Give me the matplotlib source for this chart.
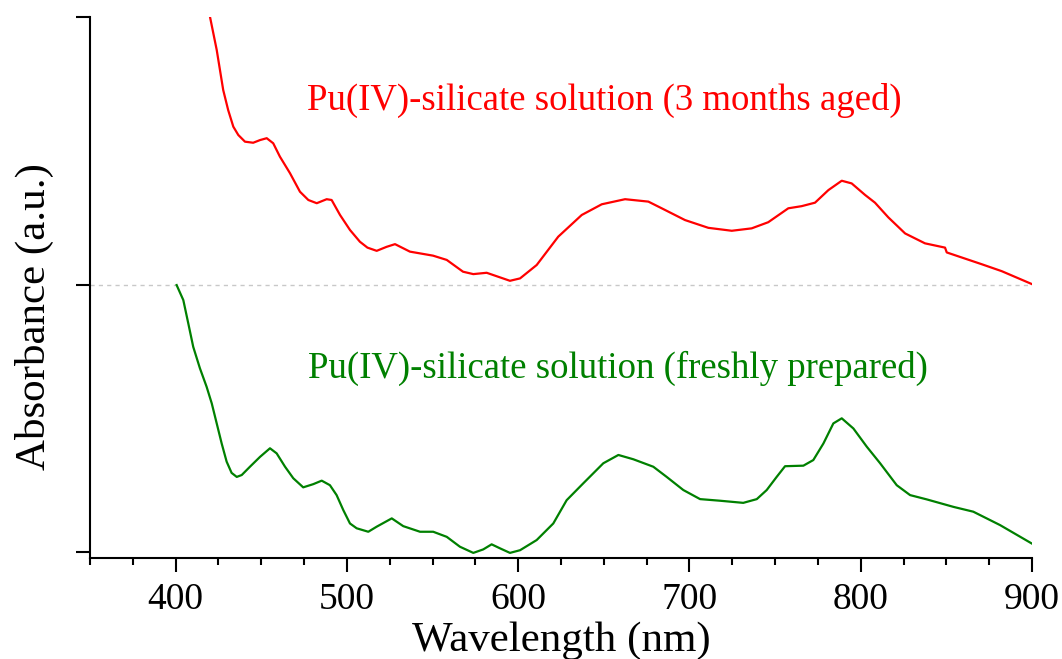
import matplotlib
matplotlib.use("Agg")
import matplotlib.pyplot as plt
from matplotlib.ticker import MultipleLocator

plt.rcParams['font.family'] = ['Liberation Serif', 'DejaVu Serif']

# aged sample (red), offset by +1
aged_wl = [420.1, 424.0, 427.8, 430.7, 433.7, 436.6, 440.5, 445.3, 449.3, 453.2,
           457.0, 460.9, 466.8, 472.6, 477.5, 482.4, 488.2, 491.1, 496.0, 501.8,
           507.6, 512.0, 517.4, 523.2, 528.1, 536.8, 550.3, 558.3, 567.8,
           573.8, 581.6, 595.2, 601.1, 610.8, 623.4, 637.1, 648.8, 662.4, 676.0,
           683.8, 697.4, 711.0, 724.7, 736.3, 746.0, 757.7, 765.5, 773.3, 781.1,
           788.9, 794.7, 802.5, 808.3, 816.1, 825.9, 837.5, 849.2, 850.2, 870.6,
           882.3, 899.8]
aged_abs = [2.000, 1.877, 1.727, 1.652, 1.590, 1.559, 1.534, 1.530, 1.540, 1.547,
            1.528, 1.478, 1.416, 1.347, 1.316, 1.304, 1.319, 1.316, 1.260, 1.204,
            1.160, 1.138, 1.126, 1.141, 1.151, 1.123, 1.108, 1.092, 1.048,
            1.039, 1.044, 1.014, 1.023, 1.073, 1.179, 1.260, 1.300, 1.319, 1.310,
            1.285, 1.241, 1.212, 1.201, 1.210, 1.233, 1.285, 1.293, 1.306, 1.353,
            1.388, 1.378, 1.335, 1.306, 1.251, 1.191, 1.154, 1.138, 1.120, 1.076,
            1.050, 1.002]

# fresh sample (green)
fresh_wl = [400.6, 404.5, 407.4, 410.3, 414.2, 418.1, 421.1, 424.0, 426.9, 429.8,
            432.7, 435.7, 438.6, 443.4, 449.3, 455.1, 459.0, 463.9, 468.7, 474.5,
            480.4, 485.3, 490.1, 494.0, 497.9, 501.8, 505.7, 512.5, 517.4, 526.2,
            532.9, 542.7, 550.4, 558.3, 566.0, 573.8, 579.6, 584.5, 589.4, 595.2,
            601.1, 610.8, 620.5, 628.3, 638.0, 649.7, 658.5, 667.2, 678.9, 686.7,
            696.4, 706.2, 717.8, 731.4, 739.3, 745.1, 750.9, 755.8, 766.5, 772.3,
            778.2, 784.0, 788.9, 795.7, 803.5, 811.3, 821.0, 828.8, 838.5, 854.1,
            865.7, 881.3, 900.4]
fresh_abs = [0.998, 0.942, 0.855, 0.767, 0.687, 0.618, 0.556, 0.481, 0.406, 0.338,
             0.296, 0.281, 0.288, 0.319, 0.356, 0.388, 0.369, 0.319, 0.276, 0.242,
             0.254, 0.267, 0.250, 0.213, 0.157, 0.107, 0.089, 0.076, 0.095, 0.126,
             0.097, 0.076, 0.076, 0.057, 0.020, -0.003, 0.010, 0.029, 0.014, -0.003,
             0.007, 0.045, 0.107, 0.194, 0.257, 0.332, 0.363, 0.347, 0.319, 0.281,
             0.232, 0.198, 0.192, 0.184, 0.198, 0.232, 0.281, 0.321, 0.323, 0.344,
             0.406, 0.481, 0.500, 0.462, 0.394, 0.332, 0.250, 0.213, 0.197, 0.169,
             0.151, 0.101, 0.030]

fig = plt.figure(figsize=(10.62, 6.59), dpi=100)
ax = fig.add_axes([0.0847, 0.1533, 0.8871, 0.8209])

ax.axhline(1.0, color="#c8c8c8", lw=1, ls=(0, (3, 3)))
ax.plot(aged_wl, aged_abs, color="#ff0000", lw=1.6)
ax.plot(fresh_wl, fresh_abs, color="#008000", lw=1.6)

ax.text(650, 1.69, "Pu(IV)-silicate solution (3 months aged)", color="#ff0000",
        fontsize=26.5, ha="center", va="center")
ax.text(658, 0.688, "Pu(IV)-silicate solution (freshly prepared)", color="#008000",
        fontsize=26.5, ha="center", va="center")

ax.set_xlim(350, 900)
ax.set_ylim(-0.022, 2.0)
ax.xaxis.set_major_locator(MultipleLocator(100))
ax.xaxis.set_minor_locator(MultipleLocator(25))
ax.set_yticks([0, 1, 2])
ax.set_yticklabels([])
ax.spines["top"].set_visible(False)
ax.spines["right"].set_visible(False)
for s in ("left", "bottom"):
    ax.spines[s].set_linewidth(1.5)
ax.tick_params(axis="both", which="major", direction="out", length=10, width=1.5,
               labelsize=27, pad=8)
ax.tick_params(axis="x", which="minor", direction="out", length=5, width=1.5)

ax.set_xlabel("Wavelength (nm)", fontsize=31)
ax.xaxis.set_label_coords(0.5, -0.117)
ax.set_ylabel("Absorbance (a.u.)", fontsize=31)
ax.yaxis.set_label_coords(-0.038, 0.447)

fig.savefig("out.png", dpi=100)
